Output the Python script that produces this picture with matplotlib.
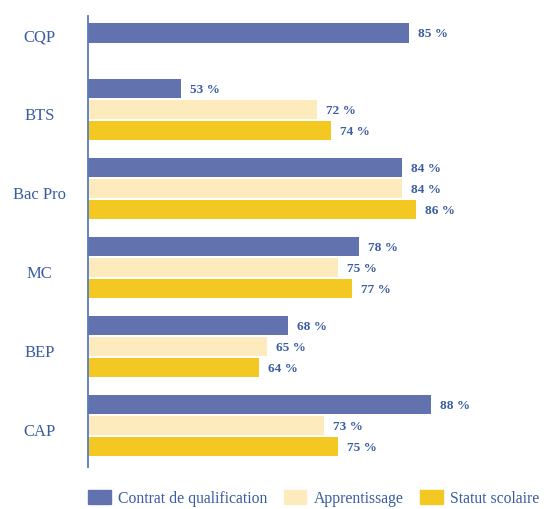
import numpy as np
import matplotlib
matplotlib.use("Agg")
import matplotlib.pyplot as plt
from matplotlib.patches import Patch

# data
categories = ["CQP", "BTS", "Bac Pro", "MC", "BEP", "CAP"]
series = ["Contrat de qualification", "Apprentissage", "Statut scolaire"]
contrat = [85, 53, 84, 78, 68, 88]
apprentissage = [None, 72, 84, 75, 65, 73]
statut = [None, 74, 86, 77, 64, 75]

colors = ["#6272AF", "#FDEBBE", "#F4C823"]
text_blue = "#3A5CA0"
plt.rcParams["font.family"] = ["Liberation Serif", "DejaVu Serif"]

fig = plt.figure(figsize=(5.53, 5.10), dpi=100)
ax = fig.add_axes([88 / 553, 1 - 468 / 510, (545 - 88) / 553, (468 - 17) / 510])

step = 21 / 79
bar_h = 19.5 / 79
y = np.arange(len(categories))

for k, vals in enumerate([contrat, apprentissage, statut]):
    for i, v in enumerate(vals):
        if v is None:
            continue
        # CQP has only one bar, placed near the middle slot
        off = 0.03 if vals is contrat and i == 0 else (k - 1) * step
        ax.barh(y[i] + off, v - 40, left=40, height=bar_h, color=colors[k])
        ax.annotate(f"{v} %", (v, y[i] + off), xytext=(6.5, 0), textcoords="offset points",
                    va="center", ha="left", fontsize=9.5, fontweight="bold", color=text_blue)

ax.set_xlim(40, 104)
ax.set_ylim(5.525, -0.184)
ax.set_yticks(y + 0.05)
ax.set_yticklabels(categories, fontsize=12, color=text_blue)
for lab in ax.get_yticklabels():
    lab.set_horizontalalignment("center")
ax.tick_params(axis="y", length=0, pad=35)
ax.set_xticks([])
for s in ["top", "right", "bottom"]:
    ax.spines[s].set_visible(False)
ax.spines["left"].set_color("#5B7BBF")
ax.spines["left"].set_linewidth(1.3)

handles = [Patch(color=c) for c in colors]
fig.legend(handles, series, loc="lower left", bbox_to_anchor=(88 / 553, 0.005), ncol=3,
           frameon=False, fontsize=11.3, labelcolor=text_blue, handlelength=1.45,
           handleheight=0.95, handletextpad=0.45, columnspacing=1.05, borderpad=0.0,
           borderaxespad=0.0)

fig.savefig("out.png", dpi=100)
